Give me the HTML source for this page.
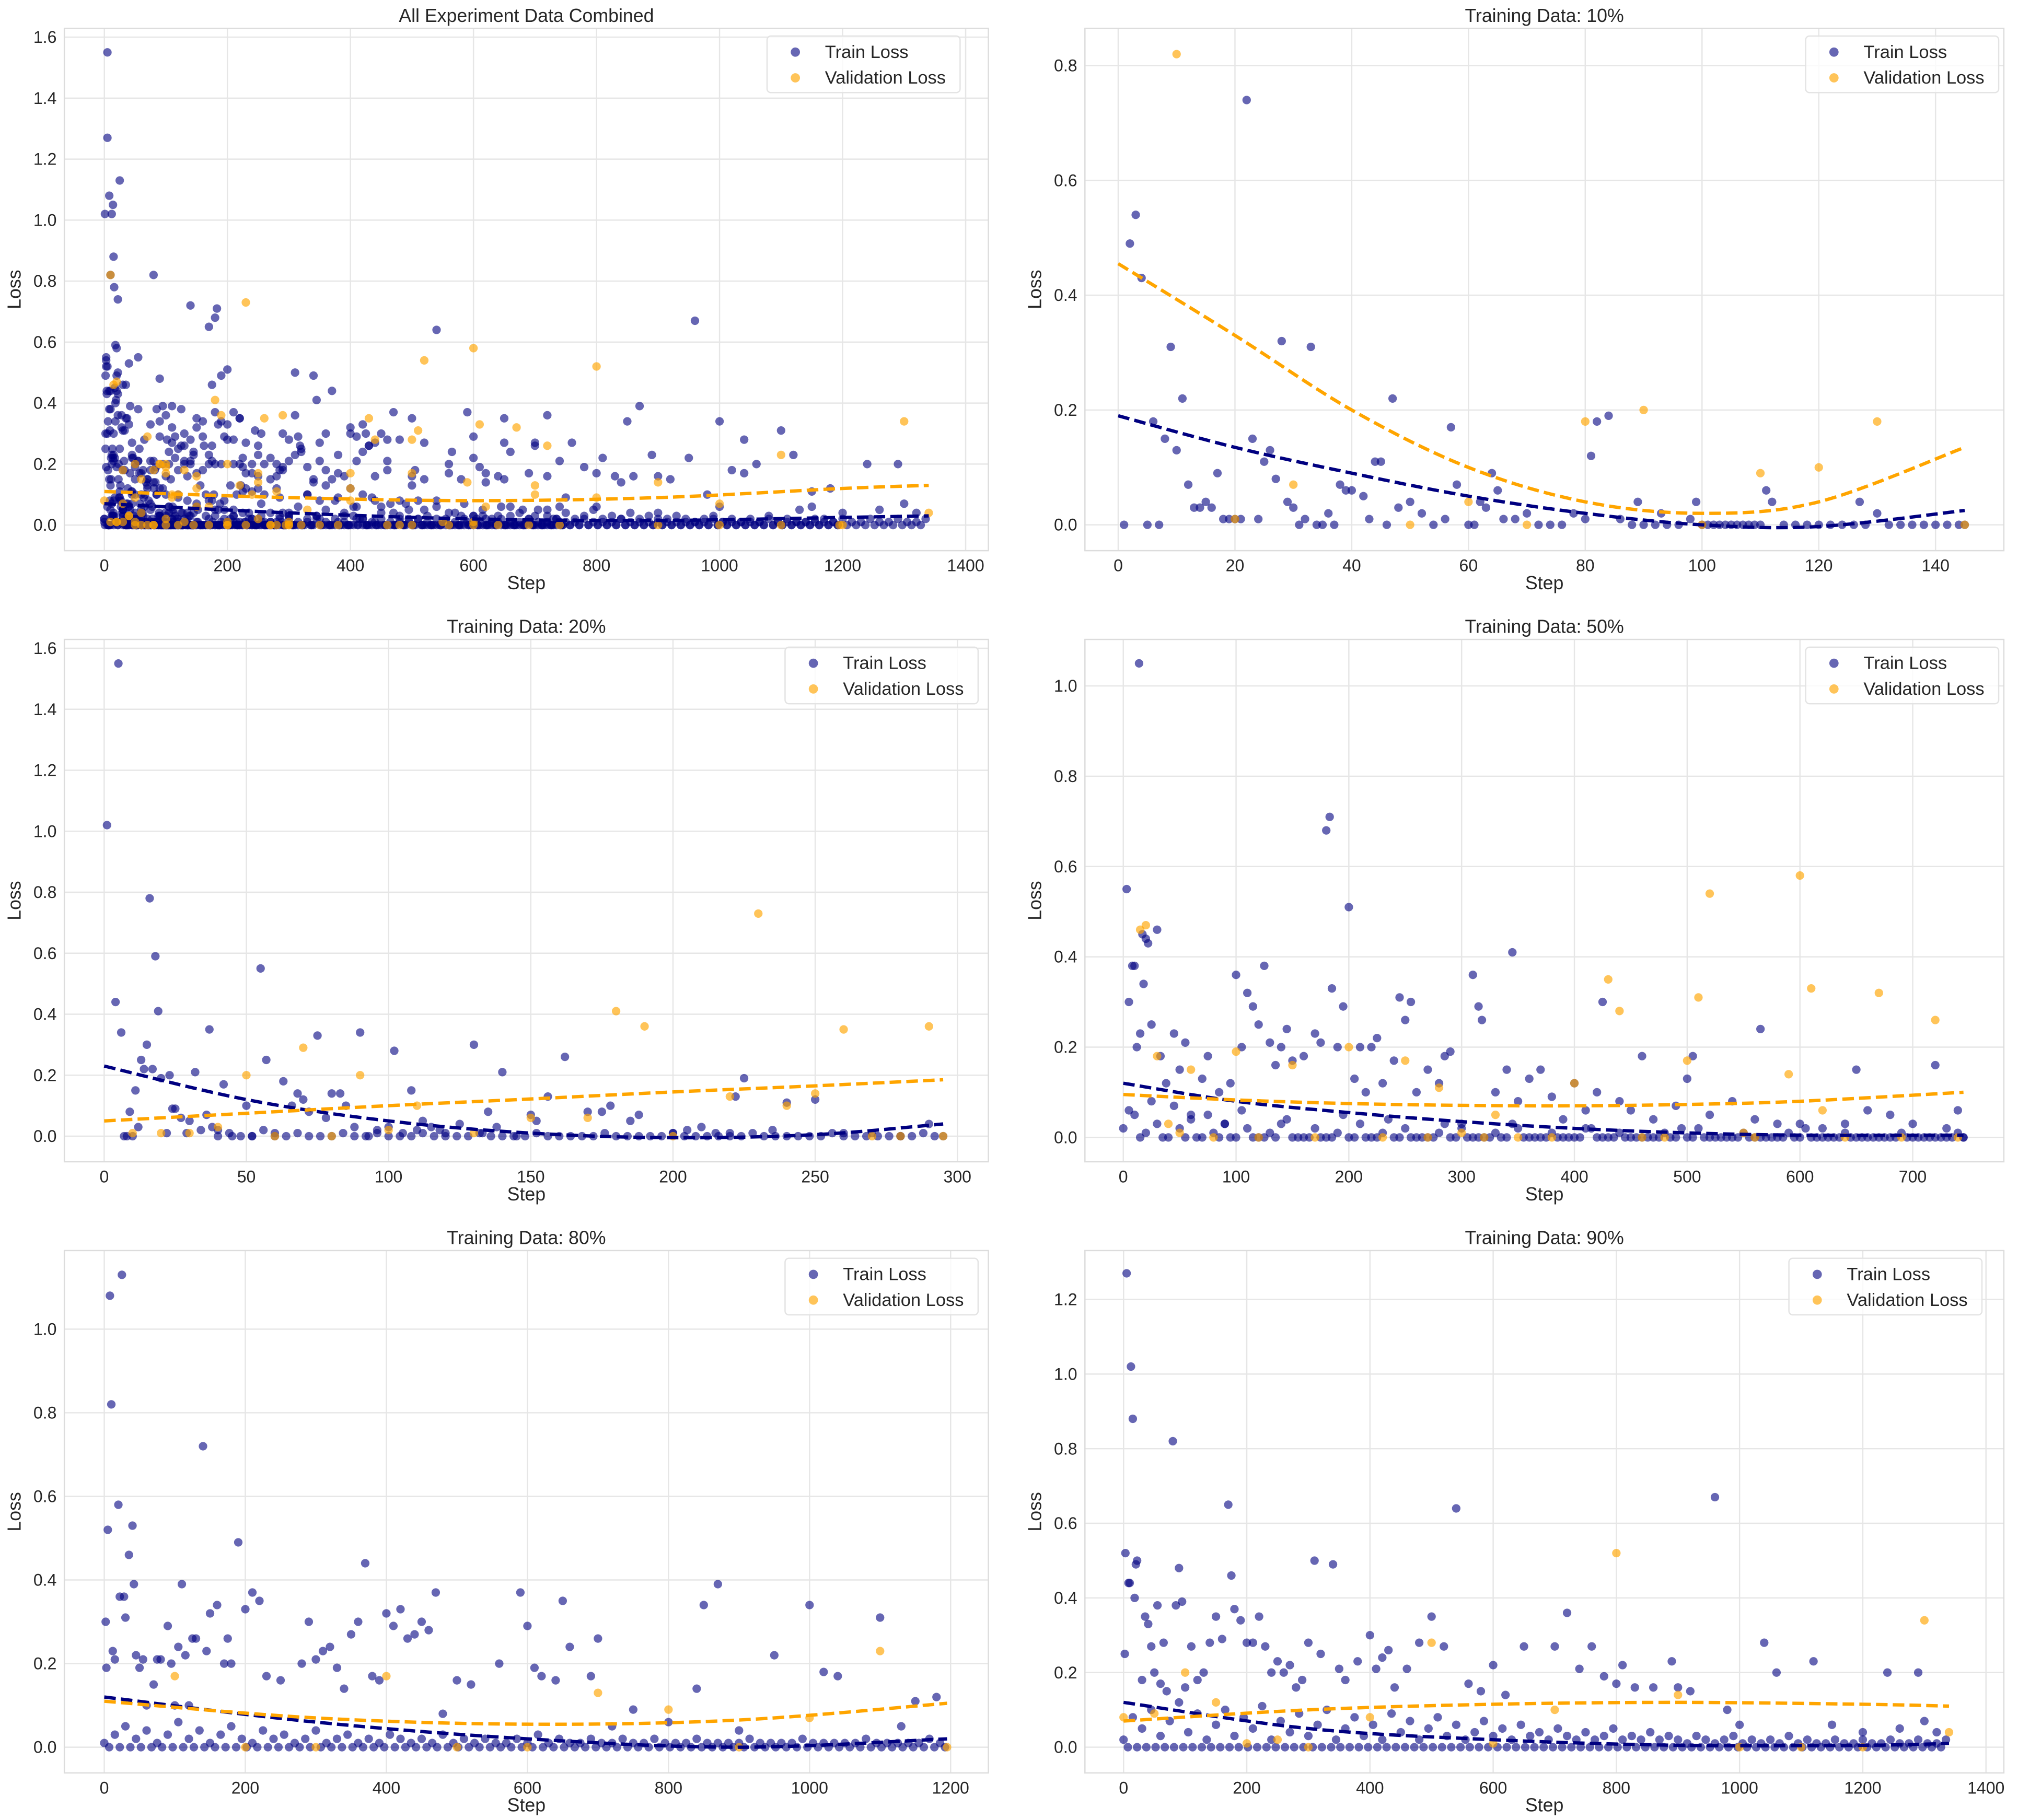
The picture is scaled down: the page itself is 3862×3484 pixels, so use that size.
<!DOCTYPE html>
<html><head><meta charset="utf-8">
<style>
html,body{margin:0;padding:0;background:#fff;}
svg{display:block;font-family:"Liberation Sans",Arial,sans-serif;}
</style></head>
<body>
<svg id="fig" xmlns="http://www.w3.org/2000/svg" width="3862" height="3484" viewBox="0 0 1568 1414.6" preserveAspectRatio="none"></svg>
<script>
// ---------- Training Data 10% ----------
const p10TrainSteps=[1,2,3,4,5,6,7,8,9,10,11,12,13,14,15,16,17,18,19,20,21,22,23,24,25,26,27,28,29,30,31,32,33,34,35,36,37,38,39,40,42,43,44,45,46,47,48,50,52,54,56,57,58,60,61,62,63,64,65,66,68,70,72,74,76,78,80,81,82,84,86,88,89,90,92,93,94,96,98,99,100,101,102,103,104,105,106,107,108,109,110,111,112,114,116,118,120,122,124,126,127,128,130,132,134,136,138,140,142,144,145];
const p10TrainVals=[0,.49,.54,.43,0,.18,0,.15,.31,.13,.22,.07,.03,.03,.04,.03,.09,.01,.01,.01,.01,.74,.15,.01,.11,.13,.08,.32,.04,.03,0,.01,.31,0,0,.02,0,.07,.06,.06,.05,.01,.11,.11,0,.22,.03,.04,.02,0,.01,.17,.07,0,0,.04,.03,.09,.06,.01,.01,.02,0,0,0,.02,.01,.12,.18,.19,.01,0,.04,0,0,.02,0,0,.01,.04,0,0,0,0,0,0,0,0,0,0,0,.06,.04,0,0,0,0,0,0,0,.04,0,.02,0,0,0,0,0,0,0,0];
const p10ValSteps=[10,20,30,50,60,70,80,90,100,110,120,130,145];
const p10ValVals=[.82,.01,.07,0,.04,0,.18,.2,0,.09,.1,.18,0];
const p10TrendSteps=[0,20,40,60,80,100,120,145];
const p10TrendTrain=[.19,.135,.09,.05,.02,0,-.003,.025];
const p10TrendVal=[.455,.33,.2,.1,.04,.02,.04,.135];

// ---------- Training Data 20% ----------
const p20TrainSteps=[1,4,5,6,7,8,9,10,11,12,13,14,15,16,17,18,19,20,22,23,24,25,27,29,30,32,34,36,37,38,40,42,45,50,52,55,57,60,63,66,68,70,72,75,78,80,83,85,88,90,93,96,100,102,105,108,110,112,115,118,120,125,130,133,135,138,140,145,150,152,156,162,170,175,178,185,188,200,205,210,215,220,222,225,235,240,250,260,270,280,290,295];
const p20TrainVals=[1.02,.44,1.55,.34,0,0,.08,0,.15,.03,.25,.22,.3,.78,.22,.59,.41,.19,.01,.2,.09,.09,.06,.01,.05,.21,.02,.07,.35,.03,.02,.17,0,.1,0,.55,.25,.01,.18,.1,.14,.12,.08,.33,.06,.14,.14,.1,.03,.34,0,.01,.03,.28,.01,.15,.02,.05,.03,.02,.01,.04,.3,.01,.08,.03,.21,0,.07,.05,.13,.26,.08,.08,.1,.05,.07,.01,.02,.03,.01,.01,.13,.19,.02,.11,.12,.01,.01,0,.04,0];
const p20BaseSteps=[40,44,48,52,56,60,64,68,72,76,80,84,88,92,96,100,104,108,112,116,120,124,128,132,136,140,144,148,152,156,160,164,168,172,176,180,184,188,192,196,200,204,208,212,216,220,224,228,232,236,240,244,248,252,256,260,264,268,272,276,280,284,288,292];
const p20BaseVals=[0,.01,0,0,.02,0,0,.01,0,0,0,.01,0,0,.02,0,0,0,.01,0,0,0,0,.01,0,0,0,0,.01,0,0,0,0,0,.01,0,0,0,0,0,.01,0,0,0,0,0,0,.01,0,0,0,0,0,0,.01,0,0,0,0,0,0,0,.01,0];
const p20ValSteps=[10,20,30,40,50,60,70,80,90,100,110,130,150,170,180,190,200,220,230,240,250,260,270,280,290,295];
const p20ValVals=[.01,.01,.01,.03,.2,0,.29,0,.2,.02,.1,.01,.06,.06,.41,.36,0,.13,.73,.1,.14,.35,0,0,.36,0];
const p20TrendSteps=[0,50,100,150,200,250,295];
const p20TrendTrain=[.23,.12,.05,.01,-.005,.005,.04];
const p20TrendVal=[.05,.075,.1,.122,.145,.165,.185];

// ---------- Training Data 50% ----------
const p50TrainSteps=[3,5,8,10,12,14,15,17,18,20,22,25,30,33,38,45,50,55,60,70,75,85,90,95,100,105,110,115,120,125,130,135,140,145,150,160,170,175,180,183,185,190,195,200,205,210,215,220,225,230,240,245,250,255,260,270,280,285,290,300,310,315,318,330,340,345,350,360,370,380,390,400,410,420,425,440,450,460,470,490,500,505,520,540,560,565,580,600,620,640,650,660,680,700,720,730,740,745];
const p50TrainVals=[.55,.3,.38,.38,.2,1.05,.23,.45,.34,.44,.43,.25,.46,.18,.12,.23,.15,.21,.05,.13,.18,.1,.03,.12,.36,.2,.32,.29,.25,.38,.21,.16,.2,.24,.17,.18,.23,.21,.68,.71,.33,.2,.29,.51,.13,.2,.1,.2,.22,.12,.17,.31,.26,.3,.1,.15,.12,.18,.19,.03,.36,.29,.26,.1,.15,.41,.08,.13,.15,.09,.04,.12,.06,.1,.3,.08,.06,.18,.04,.07,.13,.18,.05,.08,.04,.24,.03,.03,.02,.03,.15,.06,.05,.03,.16,.02,.06,0];
const p50BaseSteps=[0,10,20,30,40,50,60,70,80,90,100,110,120,130,140,150,160,170,180,190,200,210,220,230,240,250,260,270,280,290,300,310,320,330,340,350,360,370,380,390,400,410,420,430,440,450,460,470,480,490,500,510,520,530,540,550,560,570,580,590,600,610,620,630,640,650,660,670,680,690,700,710,720,730,740];
const p50BaseVals=[.02,.05,.01,.03,0,.02,.04,0,.01,.03,0,.02,0,.01,.03,0,0,.02,0,.01,0,.03,0,.01,0,.02,0,0,.01,0,.02,0,0,.01,0,.02,0,0,.01,0,0,.02,0,0,.01,0,0,0,.01,0,0,.02,0,0,0,.01,0,0,0,.01,0,0,0,0,.01,0,0,0,0,.01,0,0,0,0,.01];
const p50Base2Steps=[5,15,25,35,45,55,65,75,85,95,105,115,125,135,145,155,165,175,185,195,205,215,225,235,245,255,265,275,285,295,305,315,325,335,345,355,365,375,385,395,405,415,425,435,445,455,465,475,485,495,505,515,525,535,545,555,565,575,585,595,605,615,625,635,645,655,665,675,685,695,705,715,725,735,745];
const p50Base2Vals=[.06,0,.08,0,.07,0,0,.05,0,0,.06,0,0,0,.04,0,0,0,0,.05,0,0,0,.04,0,0,0,0,.03,0,0,0,0,0,.03,0,0,0,0,0,0,.02,0,0,0,0,0,0,0,.02,0,0,0,0,0,0,0,0,0,0,.02,0,0,0,0,0,0,0,0,0,0,0,0,0,0];
const p50ValSteps=[15,20,30,40,50,60,80,100,120,150,170,200,230,250,270,280,300,320,330,350,380,400,430,440,460,480,500,510,520,550,560,590,600,610,620,640,670,690,720,740];
const p50ValVals=[.46,.47,.18,.03,.01,.15,0,.19,0,.16,0,.2,0,.17,0,.11,.01,0,.05,0,0,.12,.35,.28,0,0,.17,.31,.54,.01,0,.14,.58,.33,.06,0,.32,0,.26,0];
const p50TrendSteps=[0,100,200,300,400,500,600,745];
const p50TrendTrain=[.12,.08,.055,.035,.02,.01,.005,.005];
const p50TrendVal=[.095,.083,.075,.071,.07,.073,.08,.1];

// ---------- Training Data 80% ----------
const p80TrainSteps=[2,3,5,8,10,12,15,20,22,25,28,30,35,40,42,45,50,55,60,70,75,80,90,95,100,105,110,115,120,125,130,140,145,150,160,170,175,180,190,200,210,220,230,250,280,290,300,310,320,330,340,350,360,370,380,390,400,410,420,430,440,450,460,470,480,500,520,560,590,600,610,620,640,650,660,690,700,720,750,800,840,850,870,900,950,1000,1020,1040,1100,1130,1150,1180];
const p80TrainVals=[.3,.19,.52,1.08,.82,.23,.21,.58,.36,1.13,.36,.31,.46,.53,.39,.22,.19,.21,.1,.15,.21,.21,.29,.2,.1,.24,.39,.22,.1,.26,.26,.72,.23,.32,.34,.2,.26,.2,.49,.33,.37,.35,.17,.16,.2,.3,.21,.23,.24,.19,.14,.27,.3,.44,.17,.16,.32,.29,.33,.26,.27,.3,.28,.37,.08,.16,.15,.2,.37,.29,.19,.17,.16,.35,.24,.17,.26,.05,.09,.06,.14,.34,.39,.04,.22,.34,.18,.17,.31,.05,.11,.12];
const p80BaseSteps=[0,15,30,45,60,75,90,105,120,135,150,165,180,195,210,225,240,255,270,285,300,315,330,345,360,375,390,405,420,435,450,465,480,495,510,525,540,555,570,585,600,615,630,645,660,675,690,705,720,735,750,765,780,795,810,825,840,855,870,885,900,915,930,945,960,975,990,1005,1020,1035,1050,1065,1080,1095,1110,1125,1140,1155,1170,1185];
const p80BaseVals=[.01,.03,.05,.02,.04,.01,.03,.06,.02,.04,.01,.03,.05,.02,.01,.04,.02,.03,.01,.02,.04,.01,.02,.03,.01,.02,.01,.03,.02,.01,.02,.01,.03,.01,.02,.01,.02,.01,.01,.02,.01,.03,.01,.02,.01,.01,.02,.01,.01,.02,.01,.01,.02,.01,.01,.01,.02,.01,.01,.01,.01,.02,.01,.01,.01,.01,.02,.01,.01,.01,.01,.01,.02,.01,.01,.01,.01,.01,.02,.01];
const p80Base2Steps=[7,22,37,52,67,82,97,112,127,142,157,172,187,202,217,232,247,262,277,292,307,322,337,352,367,382,397,412,427,442,457,472,487,502,517,532,547,562,577,592,607,622,637,652,667,682,697,712,727,742,757,772,787,802,817,832,847,862,877,892,907,922,937,952,967,982,997,1012,1027,1042,1057,1072,1087,1102,1117,1132,1147,1162,1177,1192];
const p80Base2Vals=[0,0,0,0,0,0,0,0,0,0,0,0,0,0,0,0,0,0,0,0,0,0,0,0,0,0,0,0,0,0,0,0,0,0,0,0,0,0,0,0,0,0,0,0,0,0,0,0,0,0,0,0,0,0,0,0,0,0,0,0,0,0,0,0,0,0,0,0,0,0,0,0,0,0,0,0,0,0,0,0];
const p80ValSteps=[100,200,300,400,500,600,700,800,900,1000,1100,1195];
const p80ValVals=[.17,0,0,.17,0,0,.13,.09,0,.07,.23,0];
const p80TrendSteps=[0,300,600,900,1195];
const p80TrendTrain=[.12,.06,.02,0,.02];
const p80TrendVal=[.11,.07,.055,.065,.105];

// ---------- Training Data 90% ----------
const p90TrainSteps=[2,3,5,8,10,12,15,18,20,22,30,35,40,45,50,55,60,65,70,80,85,90,95,100,110,120,130,140,150,160,170,175,180,190,200,210,220,230,240,250,260,270,280,290,300,310,320,340,350,360,380,400,410,420,430,440,460,480,500,520,540,560,580,600,620,650,700,720,740,760,780,800,810,830,860,890,900,920,960,980,1000,1040,1060,1120,1150,1200,1240,1260,1290,1300,1320];
const p90TrainVals=[.25,.52,1.27,.44,.44,1.02,.88,.4,.49,.5,.18,.35,.33,.27,.2,.38,.17,.28,.15,.82,.38,.48,.39,.16,.27,.18,.2,.28,.35,.29,.65,.46,.37,.34,.28,.28,.35,.27,.2,.23,.2,.22,.16,.18,.28,.5,.25,.49,.21,.18,.23,.3,.21,.24,.26,.16,.21,.28,.35,.27,.64,.17,.15,.22,.14,.27,.27,.36,.21,.27,.19,.17,.22,.16,.16,.23,.16,.15,.67,.1,.06,.28,.2,.23,.06,.04,.2,.05,.2,.07,.04];
const p90BaseSteps=[0,15,30,45,60,75,90,105,120,135,150,165,180,195,210,225,240,255,270,285,300,315,330,345,360,375,390,405,420,435,450,465,480,495,510,525,540,555,570,585,600,615,630,645,660,675,690,705,720,735,750,765,780,795,810,825,840,855,870,885,900,915,930,945,960,975,990,1005,1020,1035,1050,1065,1080,1095,1110,1125,1140,1155,1170,1185,1200,1215,1230,1245,1260,1275,1290,1305,1320,1335];
const p90BaseVals=[.02,.08,.05,.1,.03,.07,.12,.04,.09,.02,.06,.1,.03,.08,.05,.11,.02,.07,.04,.09,.03,.06,.1,.02,.05,.08,.03,.06,.02,.09,.04,.07,.02,.05,.08,.03,.06,.02,.04,.07,.03,.05,.02,.06,.03,.04,.02,.05,.03,.02,.04,.02,.03,.05,.02,.03,.02,.04,.02,.03,.02,.01,.03,.02,.01,.02,.03,.01,.02,.01,.02,.01,.03,.01,.02,.01,.01,.02,.01,.01,.02,.01,.01,.02,.01,.01,.02,.01,.01,.02];
const p90Base2Steps=[7,22,37,52,67,82,97,112,127,142,157,172,187,202,217,232,247,262,277,292,307,322,337,352,367,382,397,412,427,442,457,472,487,502,517,532,547,562,577,592,607,622,637,652,667,682,697,712,727,742,757,772,787,802,817,832,847,862,877,892,907,922,937,952,967,982,997,1012,1027,1042,1057,1072,1087,1102,1117,1132,1147,1162,1177,1192,1207,1222,1237,1252,1267,1282,1297,1312,1327];
const p90Base2Vals=[0,0,0,0,0,0,0,0,0,0,0,0,0,0,0,0,0,0,0,0,0,0,0,0,0,0,0,0,0,0,0,0,0,0,0,0,0,0,0,0,0,0,0,0,0,0,0,0,0,0,0,0,0,0,0,0,0,0,0,0,0,0,0,0,0,0,0,0,0,0,0,0,0,0,0,0,0,0,0,0,0,0,0,0,0,0,0,0,0];
const p90ValSteps=[0,50,100,150,200,250,300,400,500,600,700,800,900,1000,1100,1200,1300,1340];
const p90ValVals=[.08,.09,.2,.12,.01,.02,0,.08,.28,.01,.1,.52,.14,0,0,0,.34,.04];
const p90TrendSteps=[0,300,600,900,1200,1340];
const p90TrendTrain=[.12,.05,.02,.005,.005,.01];
const p90TrendVal=[.07,.1,.115,.12,.115,.11];

// ---------- Combined trend ----------
const allTrendSteps=[0,300,600,900,1200,1340];
const allTrendTrain=[.07,.04,.02,.015,.025,.03];
const allTrendVal=[.11,.09,.08,.09,.12,.13];

const NS="http://www.w3.org/2000/svg";
const fig=document.getElementById('fig');
function mk(tag,attrs,parent){const e=document.createElementNS(NS,tag);for(const k in attrs)e.setAttribute(k,attrs[k]);(parent||fig).appendChild(e);return e;}

function drawPanel(P){
  const g=mk('g',{});
  
  
  const X=v=>P.L+(v-P.xmin)/(P.xmax-P.xmin)*(P.R-P.L);
  const Y=v=>P.B-(v-P.ymin)/(P.ymax-P.ymin)*(P.B-P.T);
  P.xticks.forEach(t=>{
    const l=mk('line',{x1:X(t),x2:X(t),y1:P.T,y2:P.B,stroke:'#e6e6e6','stroke-width':1},g);
    
    
    const tx=mk('text',{x:X(t),y:P.B+16,'text-anchor':'middle','font-size':13,fill:'#262626'},g);
    tx.textContent=t;
    
    
  });
  P.yticks.forEach(t=>{
    const l=mk('line',{x1:P.L,x2:P.R,y1:Y(t),y2:Y(t),stroke:'#e6e6e6','stroke-width':1},g);
    
    
    const tx=mk('text',{x:P.L-6,y:Y(t)+4.5,'text-anchor':'end','font-size':13,fill:'#262626'},g);
    tx.textContent=t.toFixed(1);
    
    
  });
  const fr=mk('rect',{x:P.L,y:P.T,width:P.R-P.L,height:P.B-P.T,fill:'none',stroke:'#dcdcdc','stroke-width':1},g);
  
  
  const cid='clip'+P.id;
  const cp=mk('clipPath',{id:cid},g);
  mk('rect',{x:P.L,y:P.T,width:P.R-P.L,height:P.B-P.T},cp);
  const dg=mk('g',{'clip-path':'url(#'+cid+')'},g);
  P.train.forEach(([xs,ys])=>{
    xs.forEach((s,i)=>{
      const c=mk('circle',{cx:X(s),cy:Y(ys[i]),r:3.3,fill:'#000080','fill-opacity':0.6},dg);
      
      
    });
  });
  P.val.forEach(([xs,ys])=>{
    xs.forEach((s,i)=>{
      const c=mk('circle',{cx:X(s),cy:Y(ys[i]),r:3.3,fill:'#ffa500','fill-opacity':0.65},dg);
      
      
    });
  });
  function curve(xs,ys,color,nm){
    const pts=xs.map((s,i)=>[X(s),Y(ys[i])]);
    let d='M'+pts[0][0]+','+pts[0][1];
    for(let i=0;i<pts.length-1;i++){
      const p0=pts[Math.max(0,i-1)],p1=pts[i],p2=pts[i+1],p3=pts[Math.min(pts.length-1,i+2)];
      const c1=[p1[0]+(p2[0]-p0[0])/6,p1[1]+(p2[1]-p0[1])/6];
      const c2=[p2[0]-(p3[0]-p1[0])/6,p2[1]-(p3[1]-p1[1])/6];
      d+=' C'+c1+' '+c2+' '+p2;
    }
    const p=mk('path',{d:d,fill:'none',stroke:color,'stroke-width':2.6,'stroke-dasharray':'9,4'},dg);
    
    
  }
  curve(P.trendSteps,P.trendTrain,'#000080','train-trend-line');
  curve(P.trendSteps,P.trendVal,'#ffa500','validation-trend-line');
  const ti=mk('text',{x:(P.L+P.R)/2,y:P.T-5,'text-anchor':'middle','font-size':14.5,fill:'#262626'},g);
  ti.textContent=P.title;
  
  
  const xl=mk('text',{x:(P.L+P.R)/2,y:P.B+30,'text-anchor':'middle','font-size':14.5,fill:'#262626'},g);
  xl.textContent='Step';
  
  
  const yx=P.L-34,yy=(P.T+P.B)/2;
  const yl=mk('text',{x:yx,y:yy,'text-anchor':'middle','font-size':14.5,fill:'#262626',transform:'rotate(-90 '+yx+' '+yy+')'},g);
  yl.textContent='Loss';
  
  
  const lg=mk('g',{},g);
  
  
  const lx=P.legR-150,ly=P.T+6;
  mk('rect',{x:lx,y:ly,width:150,height:44,rx:3,fill:'#fff','fill-opacity':0.8,stroke:'#e3e3e3','stroke-width':1},lg);
  const e1=mk('circle',{cx:lx+22,cy:ly+12.5,r:3.6,fill:'#000080','fill-opacity':0.6},lg);
  
  
  const t1=mk('text',{x:lx+45,y:ly+17,'font-size':14,fill:'#262626'},lg);t1.textContent='Train Loss';
  
  
  const e2=mk('circle',{cx:lx+22,cy:ly+32.5,r:3.6,fill:'#ffa500','fill-opacity':0.65},lg);
  
  
  const t2=mk('text',{x:lx+45,y:ly+37,'font-size':14,fill:'#262626'},lg);t2.textContent='Validation Loss';
  
  
}

const LX=[50,768],RX=[843,1557];
const R1=[22,428],R2=[497,903],R3=[972,1378];
const allTrain=[[p10TrainSteps,p10TrainVals],[p20TrainSteps,p20TrainVals],[p20BaseSteps,p20BaseVals],[p50TrainSteps,p50TrainVals],[p50BaseSteps,p50BaseVals],[p50Base2Steps,p50Base2Vals],[p80TrainSteps,p80TrainVals],[p80BaseSteps,p80BaseVals],[p80Base2Steps,p80Base2Vals],[p90TrainSteps,p90TrainVals],[p90BaseSteps,p90BaseVals],[p90Base2Steps,p90Base2Vals]];
const allVal=[[p10ValSteps,p10ValVals],[p20ValSteps,p20ValVals],[p50ValSteps,p50ValVals],[p80ValSteps,p80ValVals],[p90ValSteps,p90ValVals]];

drawPanel({id:1,name:'panel-all-data',title:'All Experiment Data Combined',L:LX[0],R:LX[1],T:R1[0],B:R1[1],xmin:-65,xmax:1437,ymin:-0.084,ymax:1.629,xticks:[0,200,400,600,800,1000,1200,1400],yticks:[0,.2,.4,.6,.8,1,1.2,1.4,1.6],train:allTrain,val:allVal,trendSteps:allTrendSteps,trendTrain:allTrendTrain,trendVal:allTrendVal,legR:746});
drawPanel({id:2,name:'panel-10pct',title:'Training Data: 10%',L:RX[0],R:RX[1],T:R1[0],B:R1[1],xmin:-5.7,xmax:151.7,ymin:-0.045,ymax:0.865,xticks:[0,20,40,60,80,100,120,140],yticks:[0,.2,.4,.6,.8],train:[[p10TrainSteps,p10TrainVals]],val:[[p10ValSteps,p10ValVals]],trendSteps:p10TrendSteps,trendTrain:p10TrendTrain,trendVal:p10TrendVal,legR:1553});
drawPanel({id:3,name:'panel-20pct',title:'Training Data: 20%',L:LX[0],R:LX[1],T:R2[0],B:R2[1],xmin:-14,xmax:310.9,ymin:-0.084,ymax:1.629,xticks:[0,50,100,150,200,250,300],yticks:[0,.2,.4,.6,.8,1,1.2,1.4,1.6],train:[[p20TrainSteps,p20TrainVals],[p20BaseSteps,p20BaseVals]],val:[[p20ValSteps,p20ValVals]],trendSteps:p20TrendSteps,trendTrain:p20TrendTrain,trendVal:p20TrendVal,legR:760});
drawPanel({id:4,name:'panel-50pct',title:'Training Data: 50%',L:RX[0],R:RX[1],T:R2[0],B:R2[1],xmin:-34,xmax:780.8,ymin:-0.054,ymax:1.103,xticks:[0,100,200,300,400,500,600,700],yticks:[0,.2,.4,.6,.8,1],train:[[p50TrainSteps,p50TrainVals],[p50BaseSteps,p50BaseVals],[p50Base2Steps,p50Base2Vals]],val:[[p50ValSteps,p50ValVals]],trendSteps:p50TrendSteps,trendTrain:p50TrendTrain,trendVal:p50TrendVal,legR:1553});
drawPanel({id:5,name:'panel-80pct',title:'Training Data: 80%',L:LX[0],R:LX[1],T:R3[0],B:R3[1],xmin:-56.6,xmax:1253.6,ymin:-0.0615,ymax:1.188,xticks:[0,200,400,600,800,1000,1200],yticks:[0,.2,.4,.6,.8,1],train:[[p80TrainSteps,p80TrainVals],[p80BaseSteps,p80BaseVals],[p80Base2Steps,p80Base2Vals]],val:[[p80ValSteps,p80ValVals]],trendSteps:p80TrendSteps,trendTrain:p80TrendTrain,trendVal:p80TrendVal,legR:760});
drawPanel({id:6,name:'panel-90pct',title:'Training Data: 90%',L:RX[0],R:RX[1],T:R3[0],B:R3[1],xmin:-62.7,xmax:1429,ymin:-0.069,ymax:1.331,xticks:[0,200,400,600,800,1000,1200,1400],yticks:[0,.2,.4,.6,.8,1,1.2],train:[[p90TrainSteps,p90TrainVals],[p90BaseSteps,p90BaseVals],[p90Base2Steps,p90Base2Vals]],val:[[p90ValSteps,p90ValVals]],trendSteps:p90TrendSteps,trendTrain:p90TrendTrain,trendVal:p90TrendVal,legR:1540});
</script>
</body></html>
